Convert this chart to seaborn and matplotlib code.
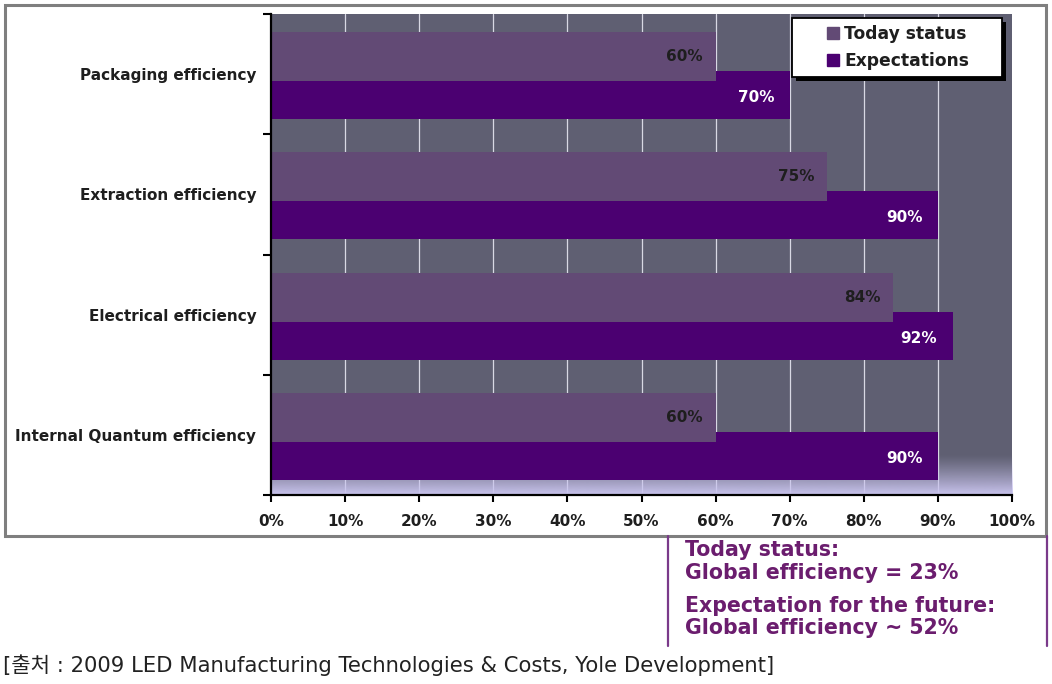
import numpy as np
import pandas as pd
import matplotlib
matplotlib.use("Agg")
import matplotlib.pyplot as plt
import matplotlib.patches as mpatches
from matplotlib.lines import Line2D
import seaborn as sns

categories = ["Packaging efficiency", "Extraction efficiency",
              "Electrical efficiency", "Internal Quantum efficiency"]
today_status = [60, 75, 84, 60]
expectations = [70, 90, 92, 90]
series_names = ["Today status", "Expectations"]
x_ticks = [0, 10, 20, 30, 40, 50, 60, 70, 80, 90, 100]
x_tick_labels = [f"{v}%" for v in x_ticks]
note_lines = ["Today status:", "Global efficiency = 23%",
              "Expectation for the future:", "Global efficiency ~ 52%"]
source_text = "[출처 : 2009 LED Manufacturing Technologies & Costs, Yole Development]"

sns.set_theme(style="white")
plt.rcParams['font.family'] = ['DejaVu Sans']

W, H = 1052, 684
fig = plt.figure(figsize=(W / 100, H / 100), dpi=100)
fig.patch.set_facecolor("white")

def fig_rect(x0, y0, x1, y1, **kw):
    """Rectangle given in figure pixels (top-left origin)."""
    r = mpatches.Rectangle((x0 / W, 1 - y1 / H), (x1 - x0) / W, (y1 - y0) / H,
                           transform=fig.transFigure, **kw)
    fig.patches.append(r)
    return r

# outer frame
fig_rect(5, 5, 1046, 536, fill=False, edgecolor="#7f7f7f", lw=2.2, zorder=0)

ax = fig.add_axes([271 / W, 1 - 495 / H, 741 / W, 481 / H])
ax.set_facecolor("#5f5f72")

C_TODAY = "#624a75"
C_EXP = "#4b0071"
TXT = "#1e1e1e"
idx = np.arange(len(categories))
off_today, off_exp = -0.146, 0.175
bw_today, bw_exp = 0.408, 0.40

df_t = pd.DataFrame({"y": idx + off_today, "v": today_status})
df_e = pd.DataFrame({"y": idx + off_exp, "v": expectations})

for xv in x_ticks[1:-1]:
    ax.axvline(xv, color="#d8d8e4", lw=0.9, zorder=0.5)

# bottom "floor" gradient (transparent at top -> lavender at bottom)
n = 64
rgba = np.zeros((n, 1, 4))
rgba[..., 0] = 0xc9 / 255
rgba[..., 1] = 0xc4 / 255
rgba[..., 2] = 0xee / 255
rgba[..., 3] = (np.linspace(1, 0, n).reshape(-1, 1)) ** 1.2
ax.imshow(rgba, extent=[0, 100, 3.5, 3.16], aspect="auto",
          origin="lower", zorder=0.6, interpolation="bilinear")

sns.barplot(data=df_e, x="v", y="y", orient="h", native_scale=True,
            color=C_EXP, width=bw_exp, saturation=1, ax=ax, zorder=2,
            errorbar=None, linewidth=0)
sns.barplot(data=df_t, x="v", y="y", orient="h", native_scale=True,
            color=C_TODAY, width=bw_today, saturation=1, ax=ax, zorder=3,
            errorbar=None, linewidth=0)

for i in idx:
    ax.text(today_status[i] - 1.7, i + off_today, f"{today_status[i]}%",
            ha="right", va="center", fontsize=11, fontweight="bold",
            color=TXT, zorder=5)
    ax.text(expectations[i] - 2.1, i + off_exp + 0.02, f"{expectations[i]}%",
            ha="right", va="center", fontsize=11, fontweight="bold",
            color="white", zorder=5)

ax.set_xlim(0, 100)
ax.set_ylim(3.5, -0.5)
ax.set_xticks(x_ticks)
ax.set_xticklabels(x_tick_labels, fontsize=11, fontweight="bold", color=TXT)
ax.set_yticks(idx)
ax.set_yticklabels(categories, fontsize=11, fontweight="bold", color=TXT)
ax.set_yticks(np.arange(-0.5, 4.0, 1.0), minor=True)
ax.tick_params(axis="y", which="major", length=0, pad=10.5)
ax.tick_params(axis="y", which="minor", left=True, length=6, width=1.5, color="black")
ax.tick_params(axis="x", which="major", bottom=True, length=5, width=1.5,
               color="black", pad=9)
ax.set_xlabel("")
ax.set_ylabel("")
for s in ["top", "right"]:
    ax.spines[s].set_visible(False)
for s in ["left", "bottom"]:
    ax.spines[s].set_color("black")
    ax.spines[s].set_linewidth(1.6)
    ax.spines[s].set_zorder(6)

# legend box with hard shadow
fig_rect(796, 22, 1006, 81, facecolor="black", edgecolor="none", zorder=8)
fig_rect(792, 18, 1002, 77, facecolor="white", edgecolor="black", lw=1.3, zorder=9)
handles = [Line2D([], [], marker="s", ls="", markersize=8, color=C_TODAY),
           Line2D([], [], marker="s", ls="", markersize=8, color=C_EXP)]
leg = fig.legend(handles, series_names, loc="center",
                 bbox_to_anchor=(897 / W, 1 - 47.5 / H),
                 prop={"size": 12.3, "weight": "bold"}, frameon=False,
                 labelspacing=0.55, handletextpad=0.15, handlelength=1.0,
                 borderaxespad=0, borderpad=0)
leg.set_zorder(10)
for t in leg.get_texts():
    t.set_color(TXT)

# note box
PURPLE = "#6b1d6e"
for xp in (668, 1047):
    fig.add_artist(Line2D([xp / W, xp / W], [1 - 536 / H, 1 - 646 / H],
                          transform=fig.transFigure, color="#7a3a8a", lw=1.6))
ys = [550, 573, 606, 628]
for line, yp in zip(note_lines, ys):
    fig.text(685 / W, 1 - yp / H, line, ha="left", va="center", fontsize=14.8,
             fontweight="bold", color=PURPLE)

fig.text(3 / W, 1 - 665 / H, source_text, ha="left", va="center", fontsize=15.2,
         color="#222222", family=["DejaVu Sans", "Noto Sans CJK KR"])

fig.savefig("out.png", dpi=100)
